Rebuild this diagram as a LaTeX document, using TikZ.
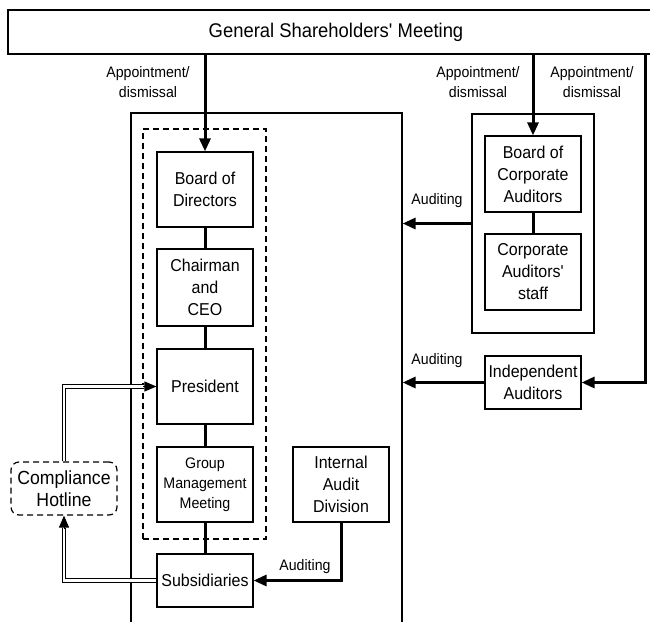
\documentclass[tikz,border=0pt]{standalone}
\usepackage{fontspec}
\setmainfont[FakeStretch=0.93]{Liberation Sans}
\usetikzlibrary{arrows.meta,calc}
\begin{document}
\begin{tikzpicture}[x=1pt,y=-1pt,
  box/.style={draw,line width=1.2pt,inner sep=0pt,align=center,font=\fontsize{17.2}{22}\selectfont},
  frame/.style={draw,line width=1.2pt,inner sep=0pt},
  dframe/.style={draw,line width=1.2pt,inner sep=0pt,dash pattern=on 6pt off 4pt},
  conn/.style={line width=3pt},
  arr/.style={conn,-{Triangle[length=13pt,width=11pt]}},
  dbl/.style={double,double distance=2.6pt,line width=0.9pt},
  dtip/.style={line width=0.9pt,-{Triangle[length=12pt,width=10pt]}},
  lbl/.style={align=center,inner sep=0pt,font=\fontsize{15.2}{20}\selectfont}]
\useasboundingbox (0,0) rectangle (650,621);

% frames
\node[frame,minimum width=656pt,minimum height=44pt,font=\fontsize{19.8}{22}\selectfont] (gsm) at (336,32) {General Shareholders\textquotesingle\ Meeting};
\node[frame,minimum width=271pt,minimum height=527pt] (company) at (266.5,376.5) {};
\node[dframe,minimum width=123pt,minimum height=410pt] (mgmt) at (204.5,334) {};
\node[frame,minimum width=122pt,minimum height=219pt] (audgrp) at (533,223.5) {};

% boxes
\node[box,minimum width=96pt,minimum height=75pt] (bod) at (205,189.5) {Board of\\Directors};
\node[box,minimum width=96pt,minimum height=77pt] (ceo) at (205,287.5) {Chairman\\and\\CEO};
\node[box,minimum width=96pt,minimum height=75pt] (pres) at (205,386.5) {President};
\node[box,minimum width=96pt,minimum height=75pt,font=\fontsize{15.3}{20}\selectfont] (gmm) at (205,484.5) {Group\\Management\\Meeting};
\node[box,minimum width=96pt,minimum height=53pt] (subs) at (205,580.5) {Subsidiaries};
\node[box,minimum width=96pt,minimum height=75pt] (iad) at (341,484.5) {Internal\\Audit\\Division};
\node[box,minimum width=96pt,minimum height=76pt] (bca) at (533,174) {Board of\\Corporate\\Auditors};
\node[box,minimum width=96pt,minimum height=76pt] (staff) at (533,272) {Corporate\\Auditors\textquotesingle\\staff};
\node[box,minimum width=96pt,minimum height=53pt] (ind) at (533,382.5) {Independent\\Auditors};
\node[box,dash pattern=on 6pt off 4pt,rounded corners=8pt,minimum width=106pt,minimum height=53pt,font=\fontsize{19}{22}\selectfont] (hot) at (64,488.5) {Compliance\\Hotline};

\coordinate (rl) at (645,0);

% thick connectors
\draw[arr] (gsm.south -| bod.north) -- (bod.north);
\draw[conn] (bod) -- (ceo);
\draw[conn] (ceo) -- (pres);
\draw[conn] (pres) -- (gmm);
\draw[conn] (gmm) -- (subs);
\draw[arr] (gsm.south -| bca.north) -- (bca.north);
\draw[conn] (bca) -- (staff);
\draw[arr] (gsm.south -| rl) |- (ind.east);
\draw[arr] (audgrp.west) -- (audgrp.west -| company.east);
\draw[arr] (ind.west) -- (ind.west -| company.east);
\draw[arr] (iad.south) |- (subs.east);

% double connectors
\draw[dbl] (hot.north) |- ($(pres.west)+(-12,0)$);
\draw[dtip] ($(pres.west)+(-13,0)$) -- (pres.west);
\draw[dbl] (subs.west) -| ($(hot.south)+(0,12)$);
\draw[dtip] ($(hot.south)+(0,13)$) -- (hot.south);

% labels
\node[lbl] (l1) at (148,82) {Appointment/\\dismissal};
\node[lbl] (l2) at (478,82) {Appointment/\\dismissal};
\node[lbl] (l3) at (592,82) {Appointment/\\dismissal};
\node[lbl] (a1) at (437,201) {Auditing};
\node[lbl] (a2) at (437,361) {Auditing};
\node[lbl] (a3) at (305,567) {Auditing};
\end{tikzpicture}
\end{document}
